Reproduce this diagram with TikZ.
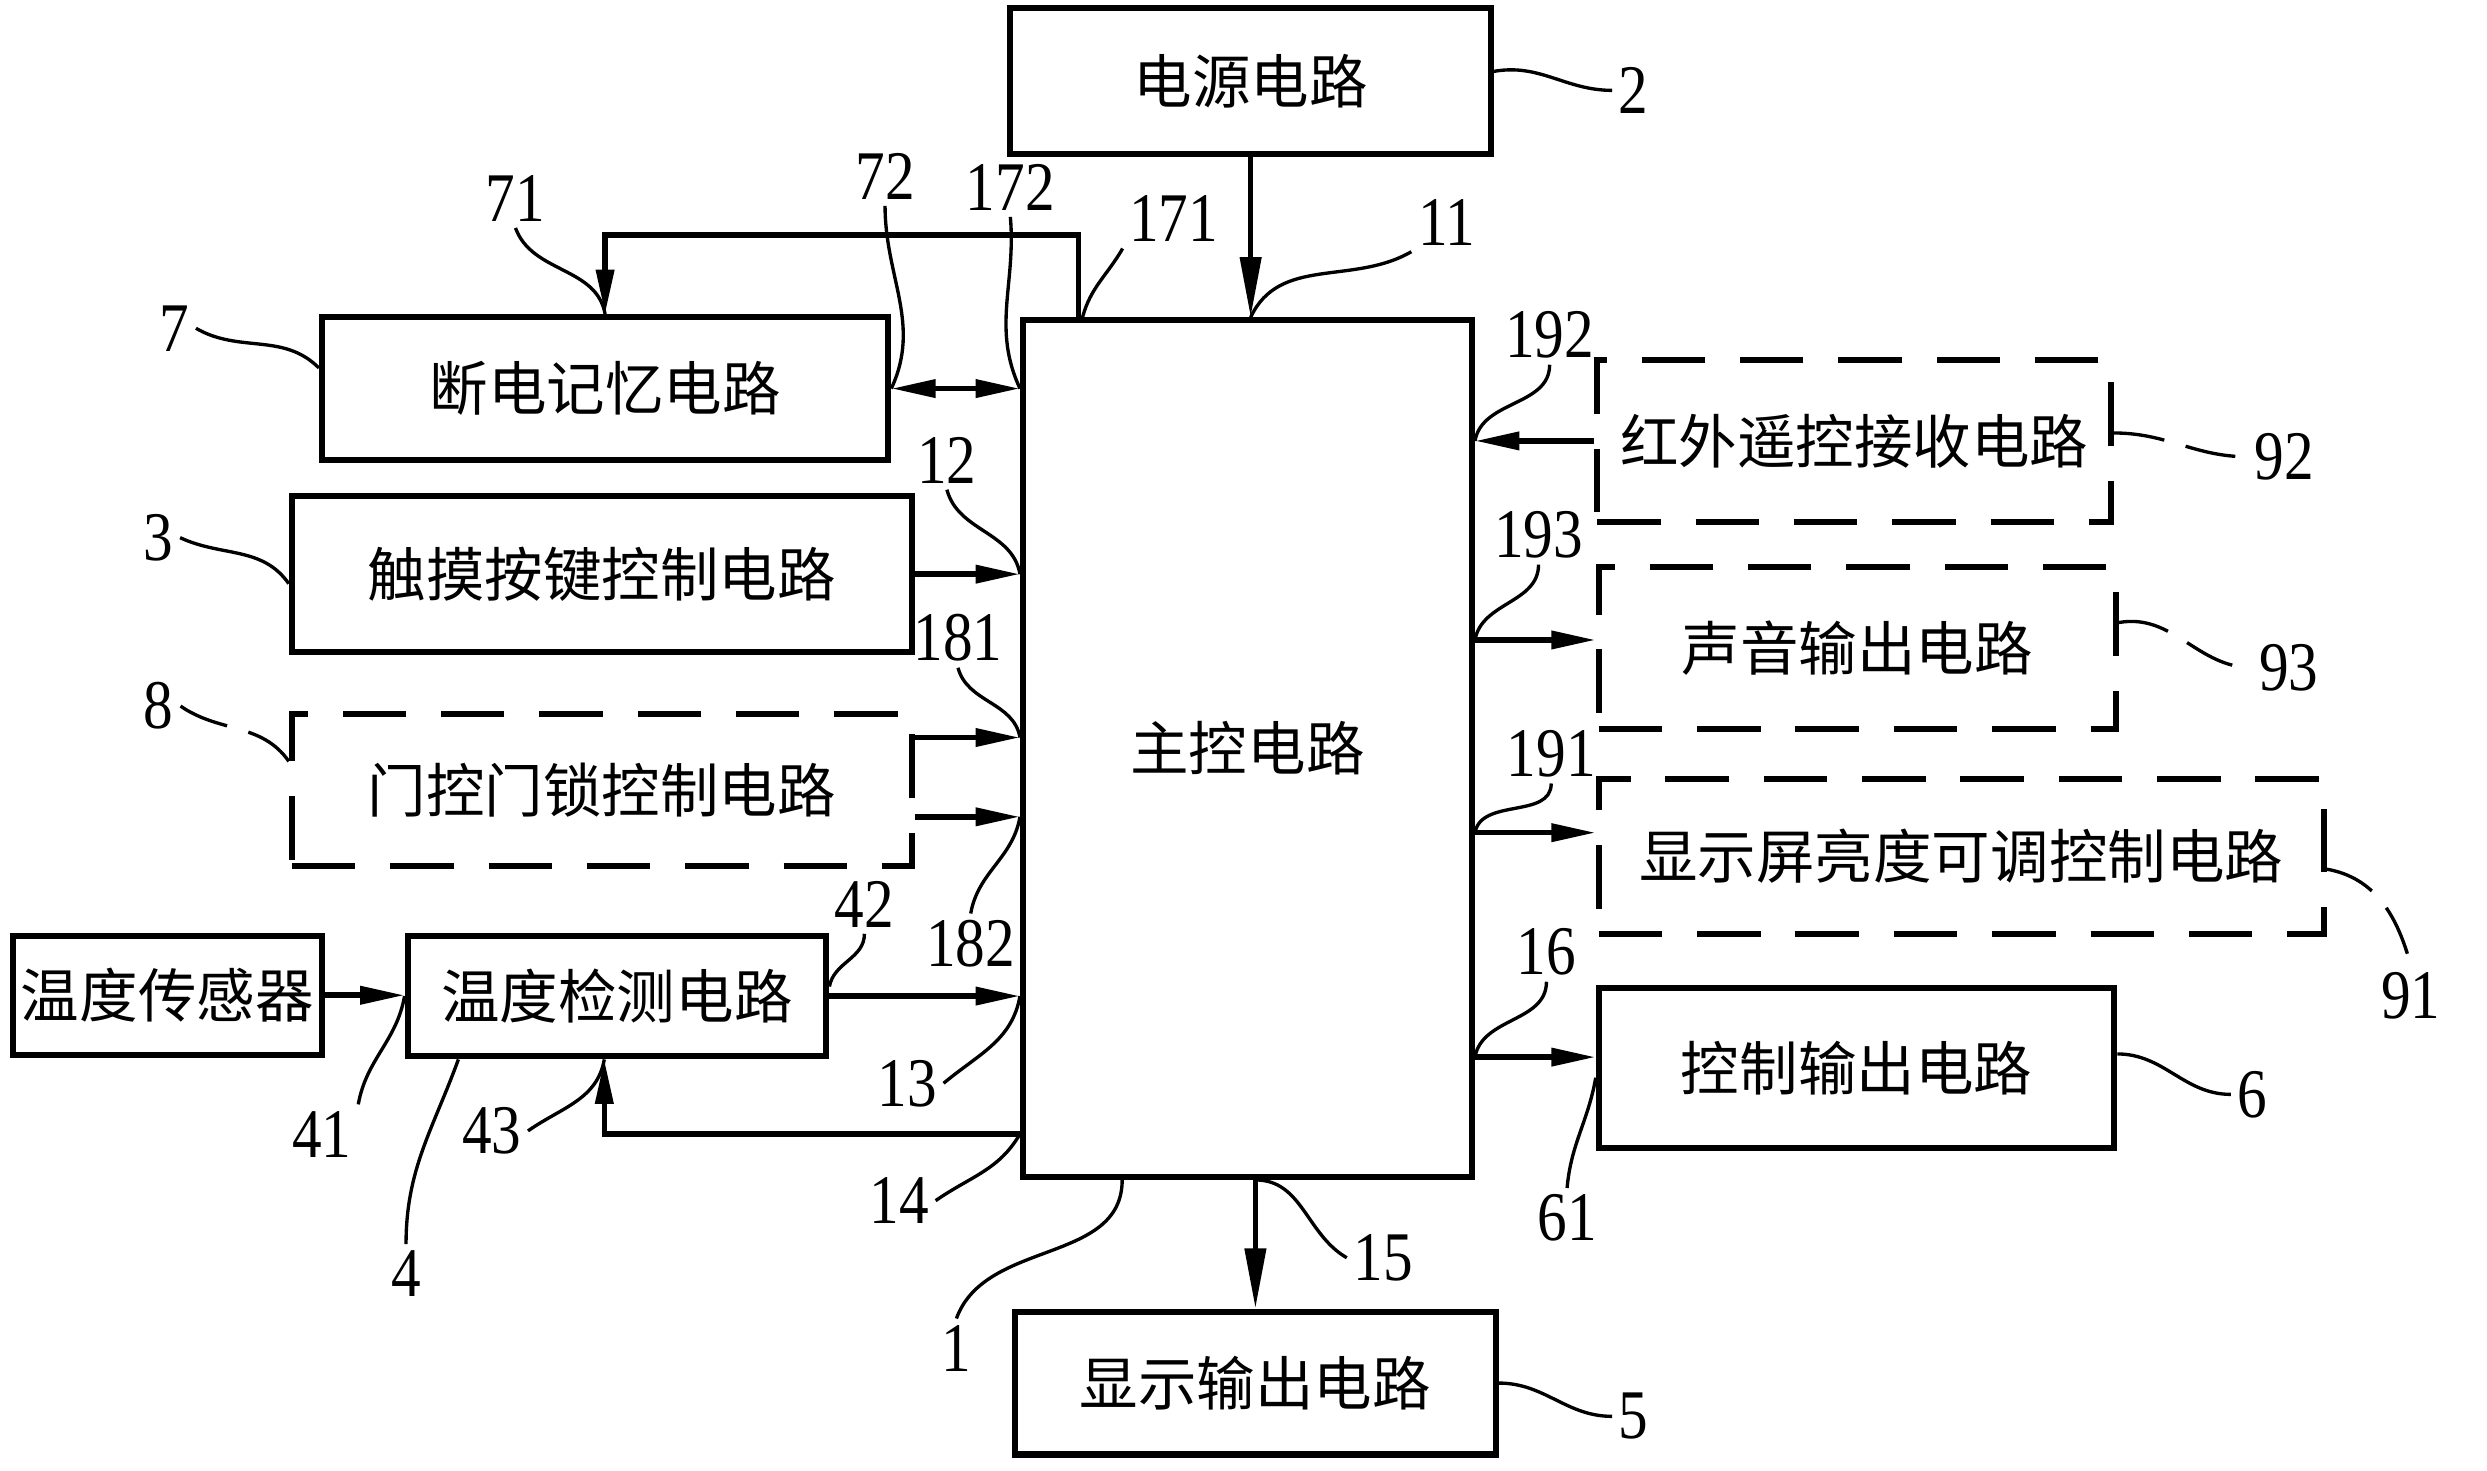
\documentclass[tikz,border=0pt]{standalone}
\usepackage{fontspec}
\setmainfont[FakeStretch=0.85]{Liberation Serif}
\newfontfamily\cjk{Noto Sans CJK SC}
\usetikzlibrary{arrows.meta}
\tikzset{
  box/.style={draw, line width=1.1pt, inner sep=0pt,
    font=\cjk\fontsize{10.5}{12}\selectfont},
  dbox/.style={box, dash pattern=on 0.4cm off 0.22cm},
  numf/.style={inner sep=1pt, font=\fontsize{12.5}{13}\selectfont},
  lead/.style={line width=0.6pt},
  dlead/.style={lead, dash pattern=on 0.32cm off 0.14cm},
  arr/.style={line width=1pt, -{Triangle[length=0.28cm,width=0.11cm]}},
  dbl/.style={line width=1pt,
    {Triangle[length=0.28cm,width=0.11cm]}-{Triangle[length=0.28cm,width=0.11cm]}},
  bigarr/.style={line width=1pt, -{Triangle[length=0.38cm,width=0.13cm]}}
}
\newcommand{\blk}[6][box]{%
  \node[#1, minimum width=#4cm, minimum height=#5cm] (#2) at (#3) {#6};}
\newcommand{\numlab}[3]{\node[numf] (#1) at (#2) {#3};}
\newcommand{\ldr}[5][lead]{\draw[#1] (#2) to[out=#3,in=#4] (#5);}
\begin{document}
\begin{tikzpicture}
  \useasboundingbox (0,0) rectangle (15.68,9.27);
  % blocks
  \blk{pwr}{7.885,8.76}{3.03}{0.92}{电源电路}
  \blk{main}{7.865,4.55}{2.83}{5.40}{主控电路}
  \blk{mem}{3.815,6.82}{3.57}{0.90}{断电记忆电路}
  \blk{touch}{3.795,5.65}{3.91}{0.98}{触摸按键控制电路}
  \blk[dbox]{door}{3.795,4.29}{3.91}{0.96}{门控门锁控制电路}
  \blk{sensor}{1.055,2.995}{1.95}{0.75}{温度传感器}
  \blk{tdet}{3.89,2.99}{2.64}{0.76}{温度检测电路}
  \blk[dbox]{ir}{11.69,6.49}{3.24}{1.02}{红外遥控接收电路}
  \blk[dbox]{sound}{11.71,5.185}{3.26}{1.02}{声音输出电路}
  \blk[dbox]{bright}{12.365,3.87}{4.57}{0.98}{显示屏亮度可调控制电路}
  \blk{ctrl}{11.705,2.535}{3.25}{1.01}{控制输出电路}
  \blk{disp}{7.915,0.55}{3.03}{0.90}{显示输出电路}
  % connection points
  \coordinate (d1) at ([yshift=0.33cm]door.east);
  \coordinate (d2) at ([yshift=-0.17cm]door.east);
  \coordinate (fb) at ([yshift=0.29cm]main.south west);
  \coordinate (so) at ([yshift=0.05cm]sound.west);
  \coordinate (br) at ([yshift=0.15cm]bright.west);
  \coordinate (co) at ([yshift=0.07cm]ctrl.west);
  % arrows
  \draw[bigarr] (pwr) -- (pwr |- main.north);
  \draw[arr] ([xshift=-1.065cm]main.north) -- ++(0,0.52) -| (mem.north);
  \draw[dbl] (mem.east) -- (mem.east -| main.west);
  \draw[arr] (touch.east) -- (touch.east -| main.west);
  \draw[arr] (d1) -- (d1 -| main.west);
  \draw[arr] (d2) -- (d2 -| main.west);
  \draw[arr] (sensor.east) -- (sensor.east -| tdet.west);
  \draw[arr] (tdet.east) -- (tdet.east -| main.west);
  \draw[arr] (fb) -| ([xshift=-0.08cm]tdet.south);
  \draw[bigarr] (disp.north |- main.south) -- (disp.north);
  \draw[arr] (ir.west) -- (ir.west -| main.east);
  \draw[arr] (main.east |- so) -- (so);
  \draw[arr] (main.east |- br) -- (br);
  \draw[arr] (main.east |- co) -- (co);
  % reference numbers
  \numlab{l2}{10.30,8.70}{2}
  \numlab{l11}{9.12,7.87}{11}
  \numlab{l171}{7.40,7.89}{171}
  \numlab{l172}{6.37,8.09}{172}
  \numlab{l72}{5.58,8.16}{72}
  \numlab{l71}{3.25,8.02}{71}
  \numlab{l7}{1.10,7.20}{7}
  \numlab{l12}{5.97,6.37}{12}
  \numlab{l3}{1.00,5.88}{3}
  \numlab{l181}{6.04,5.25}{181}
  \numlab{l8}{1.00,4.82}{8}
  \numlab{l182}{6.12,3.32}{182}
  \numlab{l42}{5.45,3.57}{42}
  \numlab{l13}{5.72,2.44}{13}
  \numlab{l41}{2.03,2.12}{41}
  \numlab{l43}{3.10,2.14}{43}
  \numlab{l4}{2.56,1.24}{4}
  \numlab{l14}{5.67,1.70}{14}
  \numlab{l1}{6.03,0.77}{1}
  \numlab{l15}{8.72,1.34}{15}
  \numlab{l5}{10.30,0.34}{5}
  \numlab{l192}{9.77,7.16}{192}
  \numlab{l92}{14.40,6.39}{92}
  \numlab{l193}{9.70,5.90}{193}
  \numlab{l93}{14.43,5.06}{93}
  \numlab{l191}{9.78,4.52}{191}
  \numlab{l91}{15.20,2.99}{91}
  \numlab{l16}{9.75,3.27}{16}
  \numlab{l61}{9.88,1.59}{61}
  \numlab{l6}{14.20,2.37}{6}
  % leader lines
  \ldr{[yshift=0.06cm]pwr.east}{10}{180}{l2.west}
  \ldr{pwr.south |- main.north}{65}{210}{l11.south west}
  \ldr{[xshift=-1.04cm]main.north}{75}{240}{l171.south west}
  \ldr{main.west |- mem.east}{115}{-85}{l172.south}
  \ldr{mem.east}{65}{-90}{l72.south}
  \ldr{mem.north}{100}{-70}{l71.south}
  \ldr{[yshift=0.13cm]mem.west}{135}{-30}{l7.east}
  \ldr{main.west |- touch.east}{100}{-75}{l12.south}
  \ldr{[yshift=-0.06cm]touch.west}{125}{-25}{l3.east}
  \ldr{d1 -| main.west}{100}{-75}{l181.south}
  \ldr[dlead]{[yshift=0.18cm]door.west}{125}{-35}{l8.east}
  \ldr{d2 -| main.west}{-100}{80}{l182.north}
  \ldr{[yshift=0.06cm]tdet.east}{80}{-90}{l42.south}
  \ldr{main.west |- tdet.east}{-100}{40}{l13.east}
  \ldr{tdet.west}{-100}{80}{l41.north east}
  \ldr{[xshift=-0.08cm]tdet.south}{-100}{35}{l43.east}
  \ldr{[xshift=-1.0cm]tdet.south}{-110}{90}{l4.north}
  \ldr{fb}{-120}{35}{l14.east}
  \ldr{[xshift=-0.79cm]main.south}{-90}{70}{l1.north}
  \ldr{disp.north |- main.south}{0}{150}{l15.west}
  \ldr{disp.east}{0}{180}{l5.west}
  \ldr{main.east |- ir.west}{80}{-90}{l192.south}
  \ldr[dlead]{[yshift=0.05cm]ir.east}{0}{180}{l92.west}
  \ldr{main.east |- so}{80}{-90}{l193.south}
  \ldr[dlead]{[yshift=0.16cm]sound.east}{10}{180}{l93.west}
  \ldr{main.east |- br}{80}{-90}{l191.south}
  \ldr[dlead]{[yshift=-0.08cm]bright.east}{-10}{105}{l91.north}
  \ldr{main.east |- co}{80}{-90}{l16.south}
  \ldr{[yshift=-0.06cm]ctrl.west}{-100}{85}{l61.north}
  \ldr{[yshift=0.09cm]ctrl.east}{0}{180}{l6.west}
\end{tikzpicture}
\end{document}
